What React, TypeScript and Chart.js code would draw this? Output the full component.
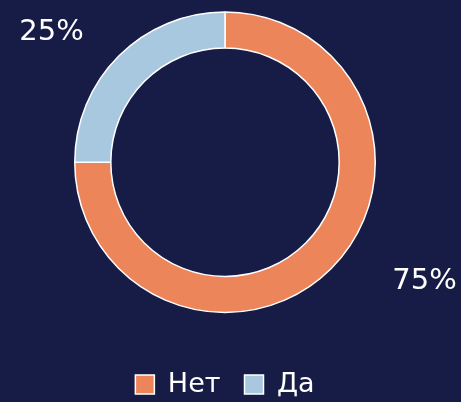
import React, { useEffect, useRef } from "react";
import { Chart, registerables } from "chart.js";

Chart.register(...registerables);

const categories = ["Нет", "Да"];
const values = [75, 25];
const pctLabels = ["75%", "25%"];
const colors = ["#ec855a", "#a8c8df"];
const BG = "#161c46";

const pctPlugin = {
  id: "pctLabels",
  afterDatasetsDraw(chart: any) {
    const meta = chart.getDatasetMeta(0);
    const ctx = chart.ctx;
    ctx.save();
    ctx.fillStyle = "#ffffff";
    ctx.font = "29px 'DejaVu Sans'";
    ctx.textAlign = "center";
    ctx.textBaseline = "middle";
    meta.data.forEach((arc: any, i: number) => {
      const { x, y, startAngle, endAngle, outerRadius } = arc.getProps(
        ["x", "y", "startAngle", "endAngle", "outerRadius"],
        true
      );
      const mid = (startAngle + endAngle) / 2;
      const lx = x + Math.cos(mid) * outerRadius * 1.755 + 13;
      const ly = y + Math.sin(mid) * outerRadius * 1.17 - 5.5;
      ctx.fillText(pctLabels[i], lx, ly);
    });
    ctx.restore();
  },
};

export default function App() {
  const ref = useRef<HTMLCanvasElement>(null);
  useEffect(() => {
    document.body.style.margin = "0";
    const chart = new Chart(ref.current!, {
      type: "doughnut",
      data: {
        labels: categories,
        datasets: [
          {
            data: values,
            backgroundColor: colors,
            borderColor: "#ffffff",
            borderWidth: 1.5,
          },
        ],
      },
      options: {
        animation: false,
        responsive: false,
        cutout: "76%",
        layout: { padding: { top: 11, left: 74, right: 85, bottom: -6 } },
        plugins: {
          tooltip: { enabled: false },
          legend: {
            position: "bottom",
            title: {
              display: true,
              text: " ",
              color: "rgba(0,0,0,0)",
              font: { size: 10, lineHeight: 1 },
              padding: { top: 23.5, bottom: 0 },
            },
            labels: {
              color: "#ffffff",
              boxWidth: 19,
              boxHeight: 19,
              padding: 24,
              font: { family: "'DejaVu Sans'", size: 27 },
            },
          },
        },
      },
      plugins: [pctPlugin],
    });
    return () => chart.destroy();
  }, []);
  return (
    <div style={{ position: "absolute", left: 0, top: 0, width: 461, height: 402, background: BG, overflow: "hidden" }}>
      <canvas ref={ref} width={461} height={402} />
    </div>
  );
}
